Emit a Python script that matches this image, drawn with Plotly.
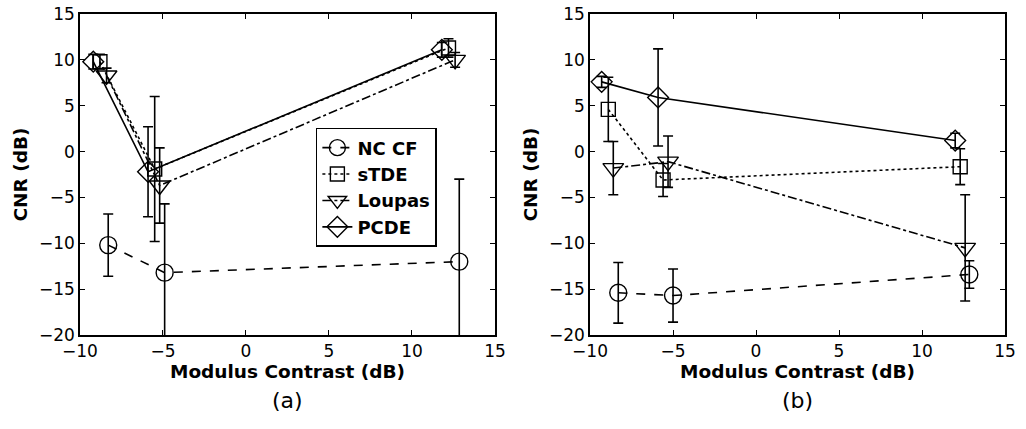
import plotly.graph_objects as go
from plotly.subplots import make_subplots

series = ["NC CF", "sTDE", "Loupas", "PCDE"]
symbols = ["circle-open", "square-open", "triangle-down-open", "diamond-open"]
dashes = ["dash", "dot", "dashdot", "solid"]
msizes = [17, 14, 18, 16]

# Panel (a)
a_x = {
    "NC CF": [-8.3, -4.9, 12.85],
    "sTDE": [-8.8, -5.5, 12.2],
    "Loupas": [-8.4, -5.2, 12.6],
    "PCDE": [-9.2, -5.9, 11.8],
}
a_y = {
    "NC CF": [-10.2, -13.2, -12.0],
    "sTDE": [9.8, -1.9, 11.3],
    "Loupas": [8.3, -3.7, 10.0],
    "PCDE": [9.8, -2.2, 11.1],
}
a_err = {
    "NC CF": [3.4, 7.5, 9.0],
    "sTDE": [0.8, 7.9, 1.0],
    "Loupas": [0.8, 4.1, 0.8],
    "PCDE": [0.8, 4.9, 0.8],
}

# Panel (b)
b_x = {
    "NC CF": [-8.3, -5.0, 12.85],
    "sTDE": [-8.9, -5.6, 12.3],
    "Loupas": [-8.6, -5.3, 12.6],
    "PCDE": [-9.3, -5.9, 12.0],
}
b_y = {
    "NC CF": [-15.4, -15.7, -13.4],
    "sTDE": [4.6, -3.1, -1.65],
    "Loupas": [-1.8, -1.1, -10.5],
    "PCDE": [7.6, 5.9, 1.2],
}
b_err = {
    "NC CF": [3.3, 2.9, 1.5],
    "sTDE": [3.5, 1.8, 1.95],
    "Loupas": [2.9, 2.8, 5.8],
    "PCDE": [0.6, 5.3, 0.8],
}

x_ticks = [-10, -5, 0, 5, 10, 15]
y_ticks = [-20, -15, -10, -5, 0, 5, 10, 15]

fig = make_subplots(rows=1, cols=2, horizontal_spacing=0.1028)

for panel, (xs, ys, es) in enumerate([(a_x, a_y, a_err), (b_x, b_y, b_err)]):
    for i, s in enumerate(series):
        fig.add_trace(go.Scatter(
            x=xs[s], y=ys[s], name=s, mode="lines+markers",
            line=dict(color="black", width=1.6, dash=dashes[i]),
            marker=dict(symbol=symbols[i], size=msizes[i], color="black",
                        line=dict(width=1.4, color="black")),
            error_y=dict(type="data", array=es[s], visible=True, color="black",
                         thickness=1.6, width=5),
            showlegend=(panel == 0), cliponaxis=True,
        ), row=1, col=panel + 1)

FONT = "DejaVu Sans, Liberation Sans, Arial, sans-serif"
axis_font = dict(family=FONT, size=17, color="black")
title_font = dict(family=FONT, size=18.5, color="black", weight="bold")

for c in (1, 2):
    fig.update_xaxes(range=[-10, 15], tickvals=x_ticks, ticks="inside", ticklen=5,
                     showline=True, linecolor="black", linewidth=1.6, mirror="ticks",
                     tickcolor="black", showgrid=False, zeroline=False,
                     tickfont=axis_font, automargin=False,
                     title=dict(text="Modulus Contrast (dB)", font=title_font, standoff=2),
                     row=1, col=c)
    fig.update_yaxes(range=[-20, 15], tickvals=y_ticks, ticks="inside", ticklen=5,
                     showline=True, linecolor="black", linewidth=1.6, mirror="ticks",
                     tickcolor="black", showgrid=False, zeroline=False,
                     tickfont=axis_font, automargin=False,
                     title=dict(text="CNR (dB)", font=title_font, standoff=6),
                     row=1, col=c)

for label, xc in (("(a)", 0.2243), ("(b)", 0.7757)):
    fig.add_annotation(text=label, x=xc, y=-0.2025, xref="paper", yref="paper",
                       xanchor="center", yanchor="middle", showarrow=False,
                       font=dict(family=FONT, size=22, color="black"))

fig.update_layout(
    width=1026, height=429,
    margin=dict(l=80, r=21, t=14, b=94, autoexpand=False),
    plot_bgcolor="white", paper_bgcolor="white",
    legend=dict(x=0.255, y=0.645, xanchor="left", yanchor="top",
                bordercolor="black", borderwidth=1.5, bgcolor="white",
                font=dict(family=FONT, size=18, color="black", weight="bold"),
                tracegroupgap=0, itemwidth=30),
)

fig.write_html("out.html")
